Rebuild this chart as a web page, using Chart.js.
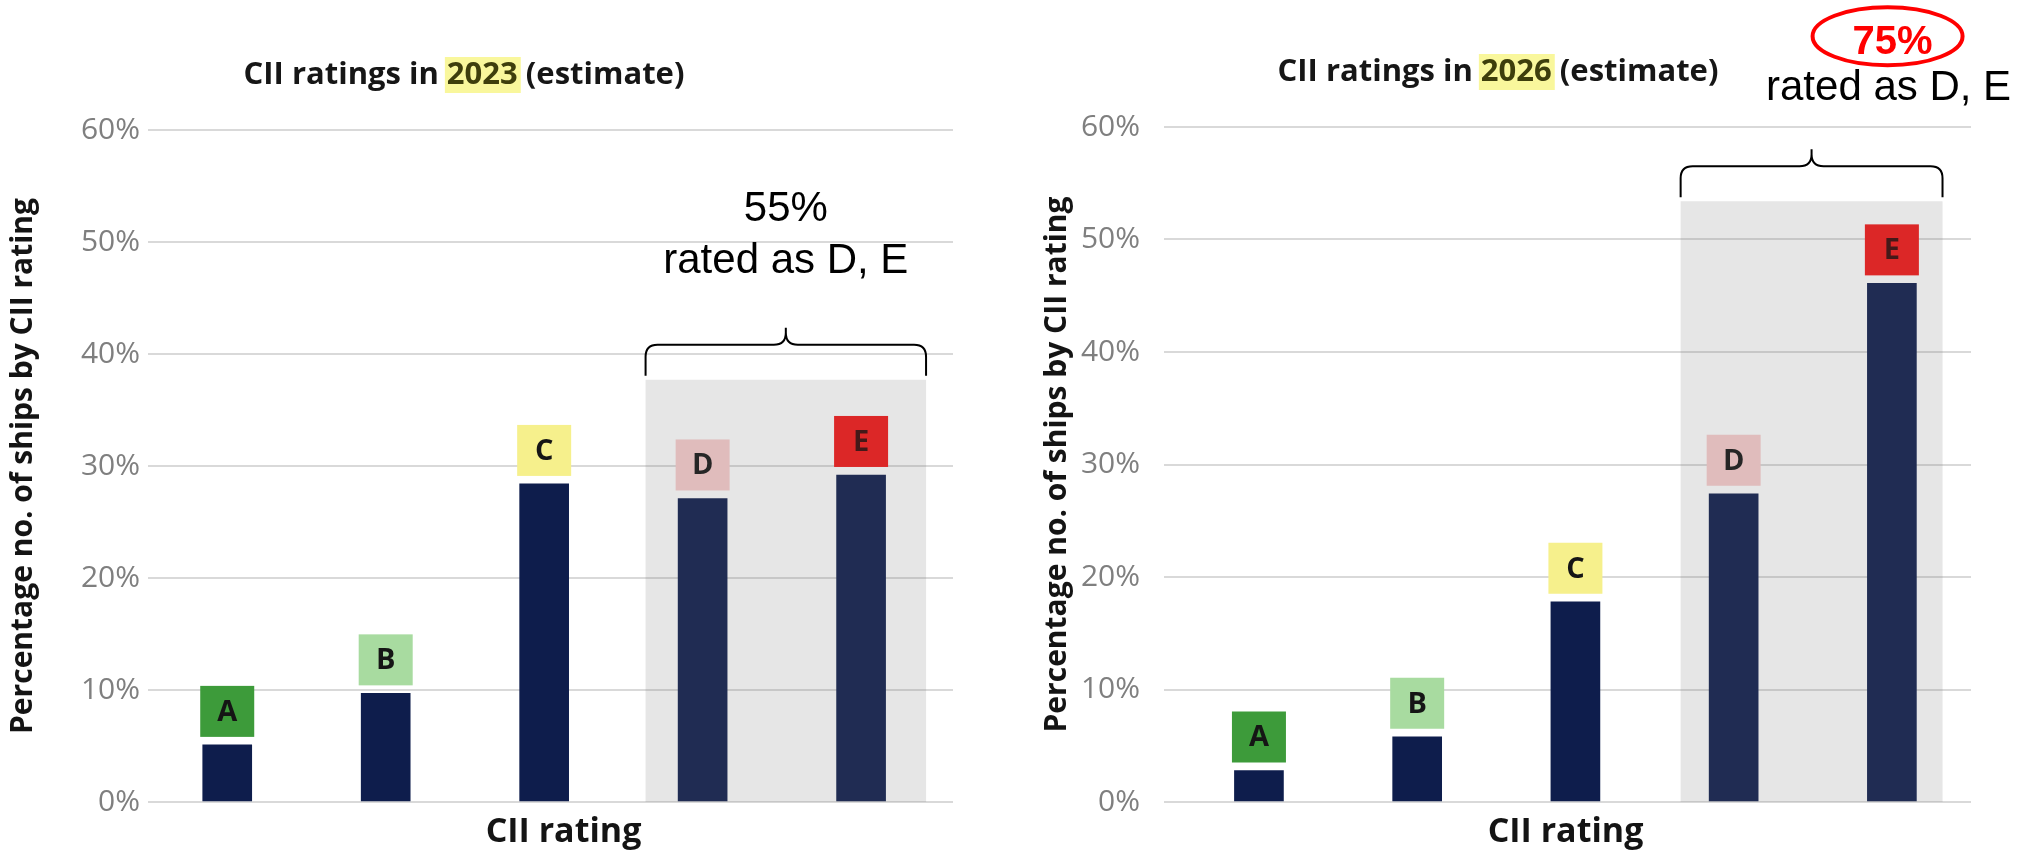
<!DOCTYPE html>
<html>
<head>
<meta charset="utf-8">
<title>CII ratings 2023 / 2026</title>
<script src="https://cdn.jsdelivr.net/npm/chart.js"></script>
<style>
  body { margin: 0; background: #fff; }
  #wrap { position: relative; width: 2022px; height: 851px; }
  .pane { position: absolute; top: 0; height: 851px; }
</style>
</head>
<body>
<div id="wrap">
  <div class="pane" style="left:0;width:1000px"><canvas id="chart2023"></canvas></div>
  <div class="pane" style="left:1000px;width:1022px"><canvas id="chart2026"></canvas></div>
</div>
<script>
// share of ships per CII rating, in %
const ratings = ['A', 'B', 'C', 'D', 'E'];
const share2023 = [5.1, 9.7, 28.4, 27.1, 29.2];
const share2026 = [2.8, 5.8, 17.8, 27.4, 46.1];
const yTicks = [0, 10, 20, 30, 40, 50, 60];
const ratingColours = ['#3d9b3a', '#a8dba0', '#f6f08c', '#f8cccc', '#f31616'];

Chart.defaults.font.family = "'Open Sans', sans-serif";

// title with highlighted year, letter boxes, grey D/E band, brace and note
const ciiDecor = {
  id: 'ciiDecor',
  afterDatasetsDraw(chart, args, o) {
    const ctx = chart.ctx;
    const x = chart.scales.x, y = chart.scales.y;
    const meta = chart.getDatasetMeta(0);

    // coloured rating squares above each bar
    meta.data.forEach((bar, i) => {
      const w = 54, h = 51;
      const bottom = bar.y - 8;
      ctx.fillStyle = ratingColours[i];
      ctx.fillRect(bar.x - w / 2, bottom - h, w, h);
      ctx.fillStyle = i == 4 ? '#3a0606' : '#151515';
      ctx.font = "bold 29px 'Open Sans'";
      ctx.textAlign = 'center';
      ctx.textBaseline = 'middle';
      ctx.fillText(ratings[i], bar.x, bottom - h / 2 + 1);
    });

    // grey band over D and E
    const band = x.getPixelForValue(1) - x.getPixelForValue(0);
    const left = x.getPixelForValue(3) - o.shadeL * band;
    const right = x.getPixelForValue(4) + o.shadeR * band;
    const top = y.getPixelForValue(o.shadeTop);
    const base = y.getPixelForValue(0);
    ctx.fillStyle = 'rgba(118,118,118,0.18)';
    ctx.fillRect(left, top, right - left, base - top);

    // curly brace
    const mid = (left + right) / 2;
    const yEnd = top - 4, yLine = top - 35, yPeak = top - 52, r = 12;
    ctx.strokeStyle = '#000';
    ctx.lineWidth = 2;
    ctx.beginPath();
    ctx.moveTo(left, yEnd);
    ctx.lineTo(left, yLine + r);
    ctx.quadraticCurveTo(left, yLine, left + r, yLine);
    ctx.lineTo(mid - r, yLine);
    ctx.quadraticCurveTo(mid, yLine, mid, yLine - r);
    ctx.lineTo(mid, yPeak);
    ctx.moveTo(mid, yLine - r);
    ctx.quadraticCurveTo(mid, yLine, mid + r, yLine);
    ctx.lineTo(right - r, yLine);
    ctx.quadraticCurveTo(right, yLine, right, yLine + r);
    ctx.lineTo(right, yEnd);
    ctx.stroke();

    // note above the brace
    const tx = mid + o.noteDx;
    ctx.textAlign = 'center';
    ctx.textBaseline = 'middle';
    ctx.font = "42px 'Liberation Sans'";
    ctx.fillStyle = '#000';
    ctx.fillText('rated as D, E', tx, yPeak - o.rowDy);
    if (o.ring) {
      ctx.font = "bold 40px 'Liberation Sans'";
      ctx.fillStyle = '#ff0000';
      ctx.fillText(o.total, tx + 4, yPeak - o.totalDy);
      ctx.strokeStyle = '#ff0000';
      ctx.lineWidth = 4;
      ctx.beginPath();
      ctx.ellipse(tx - 1, yPeak - o.totalDy - 7, 75, 29, 0, 0, Math.PI * 2);
      ctx.stroke();
    } else {
      ctx.fillText(o.total, tx, yPeak - o.totalDy);
    }
  },
  afterDraw(chart, args, o) {
    const ctx = chart.ctx;
    const area = chart.chartArea;

    // axis title under the bars
    ctx.font = "bold 34px 'Open Sans'";
    ctx.fillStyle = '#141414';
    ctx.textAlign = 'center';
    ctx.textBaseline = 'middle';
    ctx.fillText('CII rating', (area.left + area.right) / 2 + o.xTitleDx, 832);

    // chart heading, year on a yellow marker
    const parts = ['CII ratings in ', o.year, ' (estimate)'];
    ctx.font = "bold 31px 'Open Sans'";
    ctx.textAlign = 'left';
    const widths = parts.map(p => ctx.measureText(p).width);
    let px = o.titleX - (widths[0] + widths[1] + widths[2]) / 2;
    ctx.fillStyle = '#f9f79c';
    ctx.fillRect(px + widths[0] - 2, o.titleY - 18, widths[1] + 5, 36);
    parts.forEach((p, i) => {
      ctx.fillStyle = i == 1 ? '#3e3e0c' : '#161616';
      ctx.fillText(p, px, o.titleY);
      px += widths[i];
    });
  }
};

function makeChart(id, values, d) {
  return new Chart(document.getElementById(id), {
    type: 'bar',
    data: {
      labels: ratings,
      datasets: [{
        data: values.map((v, i) => ({ x: i, y: v })),
        backgroundColor: '#0e1d4c',
        barThickness: 49
      }]
    },
    options: {
      responsive: true,
      maintainAspectRatio: false,
      animation: false,
      layout: { padding: { top: d.top, right: d.right, left: 0, bottom: 0 } },
      plugins: {
        legend: { display: false },
        tooltip: { enabled: false },
        ciiDecor: d.decor
      },
      scales: {
        x: {
          type: 'linear',
          offset: false,
          min: -0.5 - d.extraL,
          max: 4.5 + d.extraR,
          grid: { display: false },
          border: { display: false },
          ticks: { display: false },
          afterFit(s) { s.height = 49; }
        },
        y: {
          min: 0,
          max: 60,
          afterBuildTicks(s) { s.ticks = yTicks.map(v => ({ value: v })); },
          grid: { color: '#d9d9d9', lineWidth: 2, drawTicks: false },
          border: { display: false },
          ticks: {
            color: '#7f7f7f',
            font: { size: 30 },
            padding: d.tickPad,
            callback: v => v + '%'
          },
          title: {
            display: true,
            text: 'Percentage no. of ships by CII rating',
            color: '#141414',
            font: { size: 30, weight: 'bold', lineHeight: 1 },
            padding: { top: d.titlePad, bottom: 0 }
          },
          afterFit(s) { s.width = d.axisWidth; }
        }
      }
    },
    plugins: [ciiDecor]
  });
}

makeChart('chart2023', share2023, {
  top: 130, right: 47, axisWidth: 148, titlePad: 8, tickPad: 8, extraL: 0, extraR: 0.08,
  decor: { year: '2023', titleX: 464, titleY: 75, shadeTop: 37.7, shadeL: 0.36, shadeR: 0.41,
           total: '55%', noteDx: 0, totalDy: 118, rowDy: 66, ring: false, xTitleDx: 13 }
});

makeChart('chart2026', share2026, {
  top: 127, right: 51, axisWidth: 164, titlePad: 42, tickPad: 24, extraL: 0.1, extraR: 0,
  decor: { year: '2026', titleX: 498, titleY: 72, shadeTop: 53.4, shadeL: 0.335, shadeR: 0.32,
           total: '75%', noteDx: 77, totalDy: 106, rowDy: 61, ring: true, xTitleDx: -2 }
});
</script>
</body>
</html>
